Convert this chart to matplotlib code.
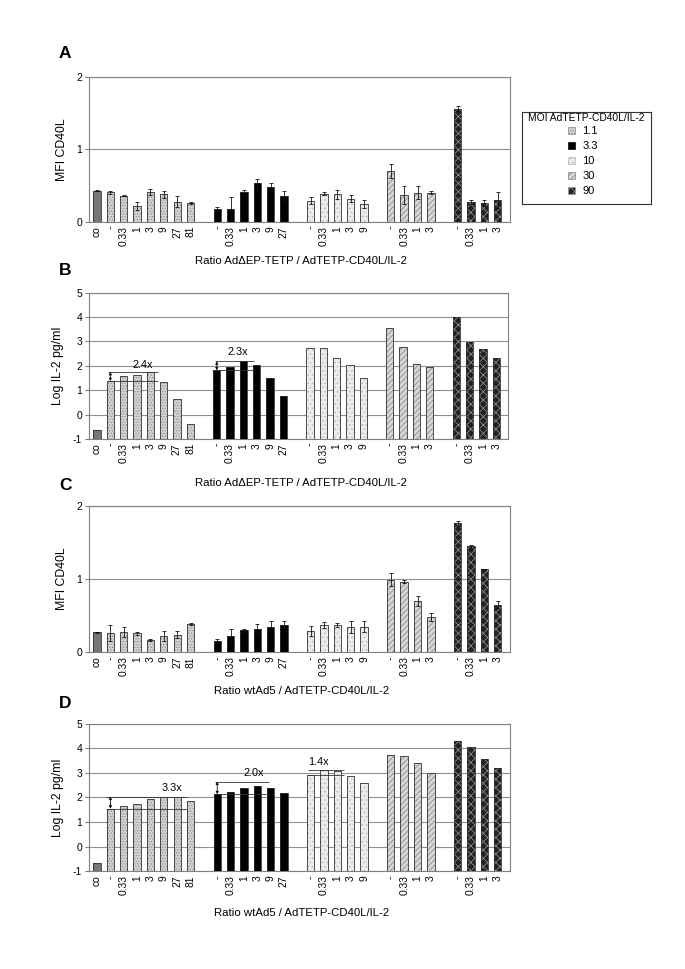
import numpy as np
import matplotlib
matplotlib.use("Agg")
import matplotlib.pyplot as plt
from matplotlib.patches import Patch

plt.rcParams["font.family"] = ["Liberation Sans", "DejaVu Sans"]
plt.rcParams["hatch.linewidth"] = 0.5
plt.rcParams["axes.unicode_minus"] = False

# categories
moi_groups = ["1.1", "3.3", "10", "30", "90"]
group_ratios = [
    ["-", "0.33", "1", "3", "9", "27", "81"],
    ["-", "0.33", "1", "3", "9", "27"],
    ["-", "0.33", "1", "3", "9"],
    ["-", "0.33", "1", "3"],
    ["-", "0.33", "1", "3"],
]

# panel A: MFI CD40L, AdDeltaEP-TETP
mfi_a = [0.43,
         0.405, 0.36, 0.22, 0.415, 0.38, 0.28, 0.26,
         0.18, 0.18, 0.405, 0.53, 0.48, 0.35,
         0.29, 0.39, 0.38, 0.32, 0.24,
         0.70, 0.37, 0.40, 0.40,
         1.56, 0.27, 0.255, 0.30]
mfi_a_err = [0.01,
             0.02, 0.005, 0.05, 0.04, 0.045, 0.07, 0.02,
             0.03, 0.16, 0.03, 0.06, 0.06, 0.08,
             0.05, 0.02, 0.06, 0.05, 0.055,
             0.10, 0.13, 0.09, 0.02,
             0.03, 0.03, 0.04, 0.11]

# panel B: log IL-2, AdDeltaEP-TETP
il2_b = [-0.65,
         1.37, 1.60, 1.63, 1.73, 1.34, 0.62, -0.37,
         1.81, 1.96, 2.19, 2.03, 1.51, 0.78,
         2.71, 2.75, 2.30, 2.04, 1.48,
         3.53, 2.79, 2.08, 1.95,
         4.00, 2.96, 2.70, 2.32]

# panel C: MFI CD40L, wtAd5
mfi_c = [0.27,
         0.26, 0.28, 0.255, 0.165, 0.22, 0.24, 0.38,
         0.15, 0.22, 0.30, 0.32, 0.35, 0.375,
         0.29, 0.375, 0.375, 0.34, 0.35,
         0.99, 0.96, 0.70, 0.48,
         1.76, 1.45, 1.13, 0.65]
mfi_c_err = [0.01,
             0.11, 0.07, 0.02, 0.01, 0.07, 0.05, 0.015,
             0.03, 0.10, 0.02, 0.06, 0.07, 0.05,
             0.07, 0.04, 0.03, 0.08, 0.08,
             0.09, 0.02, 0.07, 0.05,
             0.03, 0.02, 0.01, 0.05]

# panel D: log IL-2, wtAd5
il2_d = [-0.67,
         1.54, 1.67, 1.72, 1.94, 2.02, 2.04, 1.86,
         2.13, 2.21, 2.40, 2.47, 2.40, 2.17,
         2.92, 3.10, 3.07, 2.86, 2.60,
         3.72, 3.67, 3.39, 2.99,
         4.32, 4.04, 3.58, 3.20]

# fold-change brackets: text, text x, text y, x0, x1, y low, y high, arrow x
brackets_b = [("2.4x", 3.4, 2.05, 0.8, 4.6, 1.37, 1.75, 1),
              ("2.3x", 10.6, 2.55, 8.9, 11.8, 1.81, 2.18, 9)]
brackets_d = [("3.3x", 5.6, 2.4, 0.7, 6.7, 1.54, 2.04, 1),
              ("2.0x", 11.7, 3.0, 8.85, 12.9, 2.13, 2.65, 9),
              ("1.4x", 16.6, 3.45, 15.8, 18.5, 2.92, 3.10, None)]

styles = {
    "co":  dict(face="#767676", hatch=None, hc="#767676"),
    "1.1": dict(face="#d2d2d2", hatch="......", hc="#8a8a8a"),
    "3.3": dict(face="#000000", hatch=None, hc="#000000"),
    "10":  dict(face="#ececec", hatch="....", hc="#b4b4b4"),
    "30":  dict(face="#d6d6d6", hatch="//////", hc="#808080"),
    "90":  dict(face="#222222", hatch="xxxx", hc="#9a9a9a"),
}

# bar positions: co, then groups separated by one empty slot
positions, labels, groups = [0], ["co"], ["co"]
x = 1
for g, rats in zip(moi_groups, group_ratios):
    for r in rats:
        positions.append(x)
        labels.append(r)
        groups.append(g)
        x += 1
    x += 1
positions = np.array(positions)

W = 0.55


def draw_bars(ax, vals, err=None, base=0.0):
    vals = np.array(vals)
    for g in ["co"] + moi_groups:
        m = np.array([gg == g for gg in groups])
        st = styles[g]
        ax.bar(positions[m], vals[m] - base, bottom=base, width=W,
               color=st["face"], hatch=st["hatch"], edgecolor=st["hc"],
               linewidth=0, zorder=3)
        ax.bar(positions[m], vals[m] - base, bottom=base, width=W,
               fill=False, edgecolor="#303030", linewidth=0.6, zorder=4)
    if err is not None:
        ax.errorbar(positions, vals, yerr=err, fmt="none", ecolor="#111111",
                    elinewidth=0.6, capsize=1.5, capthick=0.6, zorder=5)


def style_axes(ax, ylim, yticks, ylabel):
    ax.set_xlim(-0.6, 30.9)
    ax.set_ylim(*ylim)
    ax.set_yticks(yticks)
    ax.tick_params(axis="y", labelsize=7.5, length=3, color="#808080", pad=2)
    ax.set_xticks(positions, labels, rotation=90, fontsize=7.4)
    ax.tick_params(axis="x", length=0, pad=3)
    for s in ax.spines.values():
        s.set_color("#808080")
        s.set_linewidth(0.8)
    ax.yaxis.grid(True, color="#909090", linewidth=0.8, zorder=0)
    ax.set_axisbelow(True)
    ax.set_ylabel(ylabel, fontsize=8.8, labelpad=6)


def draw_brackets(ax, brackets):
    for txt, tx, ty, x0, x1, ylo, yhi, ax_x in brackets:
        ax.hlines([ylo, yhi], x0, x1, color="#333333", linewidth=0.6, zorder=6)
        if ax_x is not None:
            ax.annotate("", xy=(ax_x, yhi), xytext=(ax_x, ylo),
                        arrowprops=dict(arrowstyle="<|-|>", color="#111111",
                                        lw=0.6, mutation_scale=4,
                                        shrinkA=0, shrinkB=0), zorder=6)
        ax.text(tx, ty, txt, fontsize=7.8, ha="center", va="center", zorder=6)


fig = plt.figure(figsize=(6.85, 9.69), dpi=100)

axA = fig.add_axes([0.130, 0.771, 0.614, 0.150])
draw_bars(axA, mfi_a, mfi_a_err)
style_axes(axA, (0, 2), [0, 1, 2], "MFI CD40L")

axB = fig.add_axes([0.130, 0.547, 0.612, 0.151])
draw_bars(axB, il2_b, base=-1)
style_axes(axB, (-1, 5), range(-1, 6), "Log IL-2 pg/ml")
draw_brackets(axB, brackets_b)

axC = fig.add_axes([0.130, 0.327, 0.614, 0.151])
draw_bars(axC, mfi_c, mfi_c_err)
style_axes(axC, (0, 2), [0, 1, 2], "MFI CD40L")

axD = fig.add_axes([0.130, 0.101, 0.614, 0.152])
draw_bars(axD, il2_d, base=-1)
style_axes(axD, (-1, 5), range(-1, 6), "Log IL-2 pg/ml")
draw_brackets(axD, brackets_d)

xl1 = "Ratio Ad\u0394EP-TETP / AdTETP-CD40L/IL-2"
xl2 = "Ratio wtAd5 / AdTETP-CD40L/IL-2"
fig.text(0.440, 0.731, xl1, fontsize=8.2, ha="center", va="center")
fig.text(0.440, 0.502, xl1, fontsize=8.2, ha="center", va="center")
fig.text(0.440, 0.287, xl2, fontsize=8.2, ha="center", va="center")
fig.text(0.440, 0.058, xl2, fontsize=8.2, ha="center", va="center")

for lt, ly in zip("ABCD", [0.945, 0.721, 0.499, 0.274]):
    fig.text(0.095, ly, lt, fontsize=12.5, fontweight="bold", ha="center", va="center")

# legend box
axL = fig.add_axes([522 / 685, 1 - 204 / 969, 129 / 685, 92 / 969])
axL.set_xticks([])
axL.set_yticks([])
for s in axL.spines.values():
    s.set_color("#333333")
    s.set_linewidth(0.8)
axL.text(0.5, 0.93, "MOI AdTETP-CD40L/IL-2", fontsize=7.4, ha="center", va="center",
         transform=axL.transAxes)
handles = []
for g in moi_groups:
    st = styles[g]
    handles.append(Patch(facecolor=st["face"], hatch=st["hatch"], edgecolor=st["hc"],
                         linewidth=0.5))
axL.legend(handles, moi_groups, loc="upper center", bbox_to_anchor=(0.47, 0.915),
           frameon=False, fontsize=8, handlelength=0.7, handleheight=0.7,
           handletextpad=0.6, labelspacing=0.45, borderpad=0.1)

fig.savefig("out.png", dpi=100)
